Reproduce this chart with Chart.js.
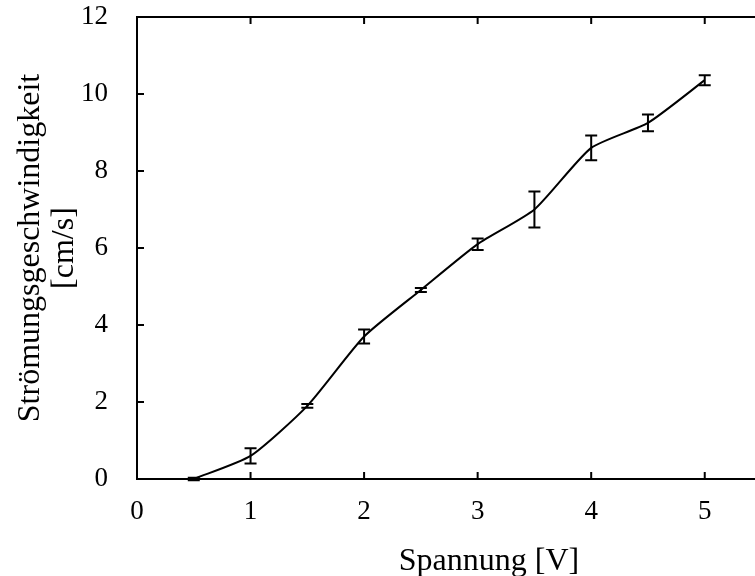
<!DOCTYPE html>
<html>
<head>
<meta charset="utf-8">
<script src="https://cdn.jsdelivr.net/npm/chart.js@4"></script>
<style>
html,body{margin:0;padding:0;background:#fff;overflow:hidden;}
#wrap{width:860px;height:576px;}
</style>
</head>
<body>
<div id="wrap"><canvas id="c" width="860" height="576"></canvas></div>
<script>
const voltages = [0.5, 1, 1.5, 2, 2.5, 3, 3.5, 4, 4.5, 5];
const speeds   = [0.0, 0.6, 1.9, 3.7, 4.91, 6.1, 7.0, 8.6, 9.25, 10.36];
const errors   = [0.03, 0.2, 0.05, 0.18, 0.05, 0.15, 0.47, 0.32, 0.22, 0.13];
const xTicks = [0, 1, 2, 3, 4, 5, 6];
const yTicks = [0, 2, 4, 6, 8, 10, 12];
const xTitle = 'Spannung [V]';
const yTitle = ['Strömungsgeschwindigkeit', '[cm/s]'];

const FONT = '"Liberation Serif", "Times New Roman", serif';

const framePlugin = {
  id: 'frame',
  afterDatasetsDraw(chart) {
    const {ctx, chartArea: a, scales: {x, y}} = chart;
    ctx.save();
    ctx.strokeStyle = '#000';
    ctx.lineWidth = 2;
    ctx.strokeRect(a.left, a.top, a.right - a.left, a.bottom - a.top);
    ctx.beginPath();
    xTicks.forEach(v => {
      const px = x.getPixelForValue(v);
      ctx.moveTo(px, a.bottom); ctx.lineTo(px, a.bottom - 7);
      ctx.moveTo(px, a.top); ctx.lineTo(px, a.top + 7);
    });
    yTicks.forEach(v => {
      const py = y.getPixelForValue(v);
      ctx.moveTo(a.left, py); ctx.lineTo(a.left + 7, py);
      ctx.moveTo(a.right, py); ctx.lineTo(a.right - 7, py);
    });
    ctx.stroke();
    // error bars
    ctx.beginPath();
    voltages.forEach((v, i) => {
      const px = x.getPixelForValue(v);
      const y1 = y.getPixelForValue(speeds[i] - errors[i]);
      const y2 = y.getPixelForValue(speeds[i] + errors[i]);
      ctx.moveTo(px, y1); ctx.lineTo(px, y2);
      ctx.moveTo(px - 6, y1); ctx.lineTo(px + 6, y1);
      ctx.moveTo(px - 6, y2); ctx.lineTo(px + 6, y2);
    });
    ctx.stroke();
    ctx.restore();
  }
};

new Chart(document.getElementById('c'), {
  type: 'line',
  data: {
    datasets: [{
      data: voltages.map((v, i) => ({x: v, y: speeds[i]})),
      borderColor: '#000',
      borderWidth: 2,
      pointRadius: 0,
      tension: 0.2,
      fill: false
    }]
  },
  options: {
    responsive: false,
    animation: false,
    events: [],
    layout: {padding: {left: 0, top: 17, right: 19, bottom: 0}},
    plugins: {legend: {display: false}, tooltip: {enabled: false}},
    scales: {
      x: {
        type: 'linear', min: 0, max: 6.2,
        afterBuildTicks(s) { s.ticks = xTicks.map(v => ({value: v})); },
        afterFit(s) { s.height = 97; s.paddingLeft = 0; s.paddingRight = 0; },
        grid: {display: false, drawTicks: false},
        border: {display: false},
        ticks: {color: '#000', font: {family: FONT, size: 27}, padding: 17, maxRotation: 0},
        title: {display: true, text: xTitle, color: '#000', font: {family: FONT, size: 32, lineHeight: '28px'}, padding: {top: 1, bottom: 0}}
      },
      y: {
        type: 'linear', min: 0, max: 12,
        afterBuildTicks(s) { s.ticks = yTicks.map(v => ({value: v})); },
        afterFit(s) { s.width = 137; s.paddingTop = 0; s.paddingBottom = 0; },
        grid: {display: false, drawTicks: false},
        border: {display: false},
        ticks: {color: '#000', font: {family: FONT, size: 27}, padding: 29},
        title: {display: true, text: yTitle, color: '#000', font: {family: FONT, size: 32, lineHeight: '34px'}, padding: {top: 14, bottom: 0}}
      }
    }
  },
  plugins: [framePlugin]
});
</script>
</body>
</html>
